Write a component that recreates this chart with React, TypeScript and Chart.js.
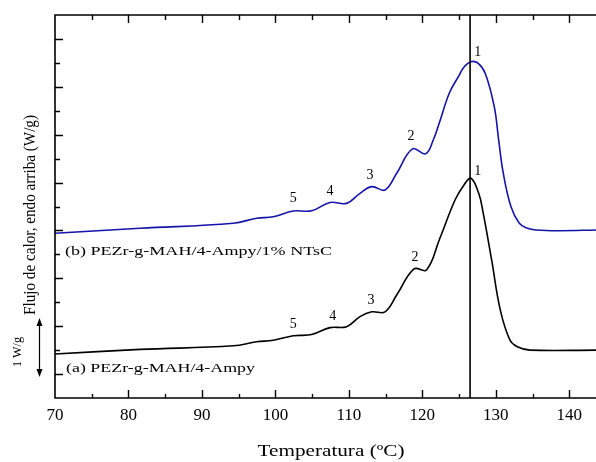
import React, { useEffect, useRef } from 'react';
import { Chart, registerables } from 'chart.js';

Chart.register(...registerables);

// ---- data (temperature in °C, heat flow in arbitrary W/g units, offset per curve) ----
const tempA = [70, 81.57, 94.27, 97.45, 99.71, 102.43, 104.94, 107.43, 109.7, 111.51, 113.11, 114.92, 116.51, 118.87, 120.57, 122.35, 124.45, 125.67, 126.62, 127.67, 128.21, 129.44, 130.61, 131.93, 133.02, 134.65, 143.64];
const flowA = [1.84, 2.03, 2.18, 2.35, 2.41, 2.6, 2.65, 2.94, 2.98, 3.4, 3.6, 3.6, 4.3, 5.39, 5.35, 6.64, 8.27, 8.9, 9.18, 8.55, 7.85, 5.76, 3.68, 2.42, 2.13, 2.0, 2.0];

const tempB = [70, 81.57, 94.27, 97.45, 99.71, 102.43, 104.94, 107.43, 109.7, 111.51, 113.11, 114.92, 116.51, 118.66, 120.43, 121.49, 122.35, 123.71, 125.03, 125.71, 126.62, 127.57, 128.57, 129.79, 130.39, 131.02, 132.07, 133.2, 134.24, 135.47, 138.73, 143.64];
const flowB = [6.88, 7.09, 7.3, 7.51, 7.57, 7.81, 7.82, 8.17, 8.13, 8.55, 8.83, 8.69, 9.39, 10.41, 10.2, 10.78, 11.53, 12.76, 13.49, 13.84, 14.05, 13.99, 13.56, 12.17, 10.78, 9.39, 7.99, 7.3, 7.1, 7.02, 6.99, 7.02];

const xTickValues = [70, 80, 90, 100, 110, 120, 130, 140];
const peakLabels = ['1', '2', '3', '4', '5'];
const peakTempA = [127.53, 119.0, 113.01, 107.8, 102.43];
const peakFlowA = [9.48, 5.88, 4.09, 3.43, 3.09];
const peakTempB = [127.53, 118.46, 112.87, 107.43, 102.43];
const peakFlowB = [14.44, 10.94, 9.31, 8.65, 8.35];

const seriesNames = ['(a) PEZr-g-MAH/4-Ampy', '(b) PEZr-g-MAH/4-Ampy/1% NTsC'];
const nameTemp = [71.5, 71.36];
const nameFlow = [1.24, 6.14];

const peakLineTemp = 126.5;
const X_MIN = 70;
const X_MAX = 143.64;
const Y_MIN = 0;
const Y_MAX = 16;

const xTitle = 'Temperatura (ºC)';
const yTitle = 'Flujo de calor, endo arriba (W/g)';
const scaleBarLabel = '1 W/g';

const SERIF = "'Liberation Serif', 'DejaVu Serif', serif";
const BLUE = '#1414a8';

// draw text horizontally stretched/condensed to a given width
function drawFitText(ctx: CanvasRenderingContext2D, text: string, x: number, y: number, size: number, width: number, align: 'left' | 'center', angle = 0) {
  ctx.save();
  ctx.font = `${size}px ${SERIF}`;
  const w = ctx.measureText(text).width;
  ctx.translate(x, y);
  if (angle) ctx.rotate(angle);
  ctx.scale(width / w, 1);
  ctx.textAlign = align;
  ctx.textBaseline = 'middle';
  ctx.fillStyle = '#000';
  ctx.fillText(text, 0, 0);
  ctx.restore();
}

const decorPlugin = {
  id: 'decor',
  afterDatasetsDraw(chart: any) {
    const { ctx, scales } = chart;
    const xs = scales.x;
    const ys = scales.y;
    const left = xs.getPixelForValue(X_MIN);
    const right = chart.width;
    const top = ys.getPixelForValue(Y_MAX);
    const bottom = ys.getPixelForValue(Y_MIN);
    ctx.save();
    ctx.strokeStyle = '#000';
    ctx.lineWidth = 1.6;
    ctx.beginPath();
    ctx.moveTo(left, top);
    ctx.lineTo(left, bottom);
    ctx.moveTo(left - 0.8, bottom);
    ctx.lineTo(right, bottom);
    ctx.moveTo(left - 0.8, top);
    ctx.lineTo(right, top);
    ctx.stroke();

    // x ticks (inward, top and bottom)
    ctx.lineWidth = 1.4;
    ctx.beginPath();
    for (let v = X_MIN + 5; v <= X_MAX; v += 5) {
      const px = Math.round(xs.getPixelForValue(v)) + 0.5;
      const major = v % 10 === 0;
      ctx.moveTo(px, bottom);
      ctx.lineTo(px, bottom - (major ? 8 : 4));
      ctx.moveTo(px, top);
      ctx.lineTo(px, top + (major ? 8 : 5));
    }
    // y ticks (inward)
    for (let v = Y_MIN + 1; v < Y_MAX; v += 1) {
      const py = Math.round(ys.getPixelForValue(v)) + 0.5;
      const len = v % 2 === 1 ? 8 : 5;
      ctx.moveTo(left, py);
      ctx.lineTo(left + len, py);
    }
    ctx.stroke();

    // vertical reference line at main peak
    ctx.lineWidth = 1.6;
    ctx.beginPath();
    const vx = xs.getPixelForValue(peakLineTemp);
    ctx.moveTo(vx, top);
    ctx.lineTo(vx, bottom);
    ctx.stroke();

    // peak labels
    ctx.fillStyle = '#000';
    ctx.font = `14px ${SERIF}`;
    ctx.textAlign = 'center';
    ctx.textBaseline = 'middle';
    peakLabels.forEach((lab, i) => {
      ctx.fillText(lab, xs.getPixelForValue(peakTempA[i]), ys.getPixelForValue(peakFlowA[i]));
      ctx.fillText(lab, xs.getPixelForValue(peakTempB[i]), ys.getPixelForValue(peakFlowB[i]));
    });
    ctx.restore();

    // series names
    drawFitText(ctx, seriesNames[0], xs.getPixelForValue(nameTemp[0]), ys.getPixelForValue(nameFlow[0]), 13.5, 189, 'left');
    drawFitText(ctx, seriesNames[1], xs.getPixelForValue(nameTemp[1]), ys.getPixelForValue(nameFlow[1]), 13.5, 267, 'left');

    // x title
    drawFitText(ctx, xTitle, 331, 452, 16, 147, 'center');

    // y title (rotated, condensed)
    drawFitText(ctx, yTitle, 31, 215, 17, 200, 'center', -Math.PI / 2);

    // scale bar "1 W/g" with double arrow
    drawFitText(ctx, scaleBarLabel, 18, 352, 12, 30, 'center', -Math.PI / 2);

    ctx.save();
    ctx.strokeStyle = '#000';
    ctx.fillStyle = '#000';
    ctx.lineWidth = 1.2;
    const ax = 39.5;
    const ay1 = 318;
    const ay2 = 377;
    ctx.beginPath();
    ctx.moveTo(ax, ay1 + 4);
    ctx.lineTo(ax, ay2 - 4);
    ctx.stroke();
    ctx.beginPath();
    ctx.moveTo(ax, ay1);
    ctx.lineTo(ax - 3, ay1 + 8);
    ctx.lineTo(ax + 3, ay1 + 8);
    ctx.closePath();
    ctx.fill();
    ctx.beginPath();
    ctx.moveTo(ax, ay2);
    ctx.lineTo(ax - 3, ay2 - 8);
    ctx.lineTo(ax + 3, ay2 - 8);
    ctx.closePath();
    ctx.fill();
    ctx.restore();
  },
};

export default function App() {
  const ref = useRef<HTMLCanvasElement | null>(null);

  useEffect(() => {
    if (!ref.current) return;
    const chart = new Chart(ref.current, {
      type: 'line',
      data: {
        datasets: [
          {
            label: seriesNames[0],
            data: tempA.map((t, i) => ({ x: t, y: flowA[i] })),
            borderColor: '#000',
            borderWidth: 1.6,
            pointRadius: 0,
            tension: 0.4,
            fill: false,
          },
          {
            label: seriesNames[1],
            data: tempB.map((t, i) => ({ x: t, y: flowB[i] })),
            borderColor: BLUE,
            borderWidth: 1.6,
            pointRadius: 0,
            tension: 0.4,
            fill: false,
          },
        ],
      },
      options: {
        animation: false,
        responsive: false,
        devicePixelRatio: 1,
        layout: { padding: { left: 55, top: 15, right: 0, bottom: 0 } },
        plugins: { legend: { display: false }, tooltip: { enabled: false } },
        scales: {
          x: {
            type: 'linear',
            min: X_MIN,
            max: X_MAX,
            afterBuildTicks: (scale: any) => {
              scale.ticks = xTickValues.map((v) => ({ value: v }));
            },
            afterFit: (scale: any) => {
              scale.height = 64;
            },
            grid: { display: false, drawTicks: false },
            border: { display: false },
            ticks: {
              padding: 7,
              maxRotation: 0,
              autoSkip: false,
              color: '#000',
              font: { family: SERIF, size: 17 },
            },
          },
          y: {
            type: 'linear',
            min: Y_MIN,
            max: Y_MAX,
            display: false,
          },
        },
      },
      plugins: [decorPlugin],
    } as any);
    return () => chart.destroy();
  }, []);

  return (
    <div style={{ position: 'absolute', left: 0, top: 0, width: 596, height: 462, background: '#fff' }}>
      <canvas ref={ref} width={596} height={462} style={{ width: 596, height: 462, display: 'block' }} />
    </div>
  );
}
